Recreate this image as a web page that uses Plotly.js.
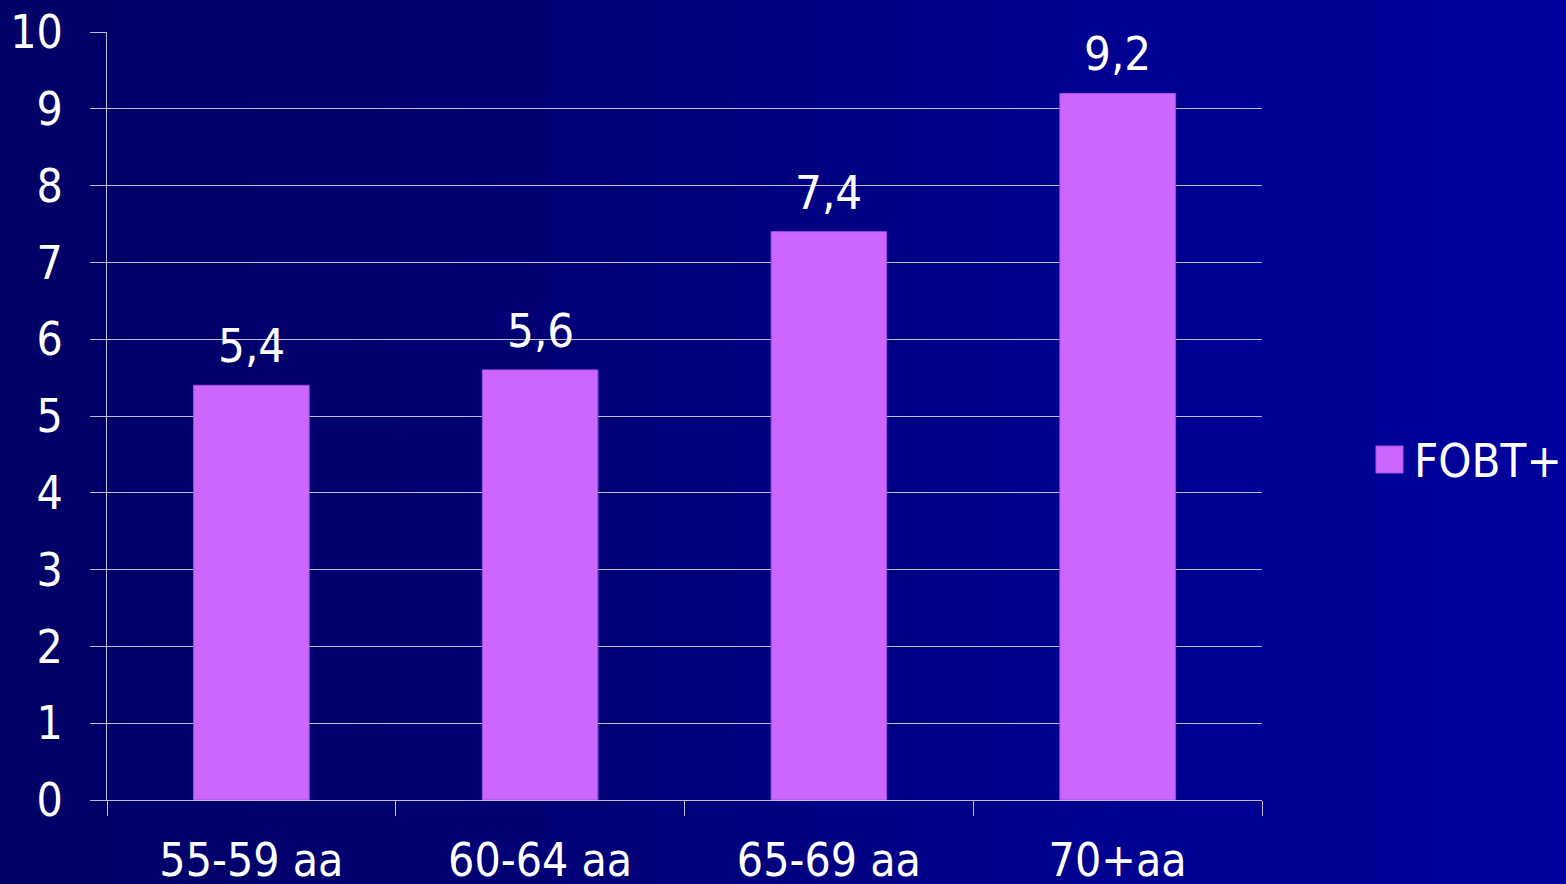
<!DOCTYPE html>
<html>
<head>
<meta charset="utf-8">
<script src="https://cdn.plot.ly/plotly-3.0.1.min.js"></script>
<style>
  html, body { margin: 0; padding: 0; width: 1566px; height: 884px; overflow: hidden; }
  body { background: linear-gradient(to right, #000066 0%, #000078 40%, #000092 72%, #00009C 100%); }
  #chart { width: 1566px; height: 884px; }
</style>
</head>
<body>
<div id="chart"></div>
<script>
// Share of positive faecal occult blood tests by age group
const categories = ['55-59 aa', '60-64 aa', '65-69 aa', '70+aa'];
const fobtPositive = [5.4, 5.6, 7.4, 9.2];
const seriesName = 'FOBT+';

const FONT = "Tahoma, 'DejaVu Sans Condensed', 'DejaVu Sans', sans-serif";
const lineColor = '#BEBEDA';
const barColor = '#CC66FF';

const trace = {
  type: 'bar',
  x: categories,
  y: fobtPositive,
  name: seriesName,
  width: 0.4,
  marker: { color: barColor, line: { color: '#A052E0', width: 1 } },
  showlegend: false,
  hoverinfo: 'x+y'
};

// value labels above each bar, decimal comma
const valueLabels = categories.map((c, i) => ({
  x: c,
  y: fobtPositive[i],
  xref: 'x',
  yref: 'y',
  text: fobtPositive[i].toFixed(1).replace('.', ','),
  showarrow: false,
  yanchor: 'bottom',
  yshift: 10,
  font: { family: FONT, size: 47, color: '#FFFFFF' }
}));

// legend: swatch + series name at the right of the plot
const legendText = {
  x: 1416,
  y: 459,
  xref: 'paper',
  yref: 'paper',
  text: seriesName,
  showarrow: false,
  xanchor: 'left',
  yanchor: 'middle',
  font: { family: FONT, size: 47, color: '#FFFFFF' }
};

const layout = {
  width: 1566,
  height: 884,
  paper_bgcolor: 'rgba(0,0,0,0)',
  plot_bgcolor: 'rgba(0,0,0,0)',
  separators: ',.',
  margin: { l: 107, r: 304, t: 32, b: 84 },
  font: { family: FONT, color: '#FFFFFF', size: 46 },
  bargap: 0.6,
  showlegend: false,
  xaxis: {
    type: 'category',
    tickson: 'boundaries',
    ticks: 'outside',
    ticklen: 15,
    tickwidth: 1,
    tickcolor: lineColor,
    showline: true,
    linecolor: lineColor,
    linewidth: 1,
    showgrid: false,
    tickfont: { family: FONT, size: 46, color: '#FFFFFF' },
    ticklabelstandoff: 20
  },
  yaxis: {
    range: [0, 10],
    dtick: 1,
    ticks: 'outside',
    ticklen: 16,
    tickwidth: 1,
    tickcolor: lineColor,
    showline: true,
    linecolor: lineColor,
    linewidth: 1,
    showgrid: true,
    gridcolor: lineColor,
    gridwidth: 1,
    zeroline: false,
    tickfont: { family: FONT, size: 46, color: '#FFFFFF' },
    ticklabelstandoff: 18
  },
  shapes: [],
  annotations: valueLabels
};

// convert pixel positions of the legend into paper coordinates
const plotW = layout.width - layout.margin.l - layout.margin.r;
const plotH = layout.height - layout.margin.t - layout.margin.b;
const px = v => (v - layout.margin.l) / plotW;
const py = v => (layout.height - layout.margin.b - v) / plotH;

layout.shapes.push({
  type: 'rect', xref: 'paper', yref: 'paper',
  x0: px(1376), x1: px(1403), y0: py(473), y1: py(446),
  fillcolor: barColor, line: { color: '#A052E0', width: 1 }
});
legendText.x = px(1412);
legendText.y = py(460);
layout.annotations.push(legendText);

Plotly.newPlot('chart', [trace], layout, { displayModeBar: false, staticPlot: true });
</script>
</body>
</html>
